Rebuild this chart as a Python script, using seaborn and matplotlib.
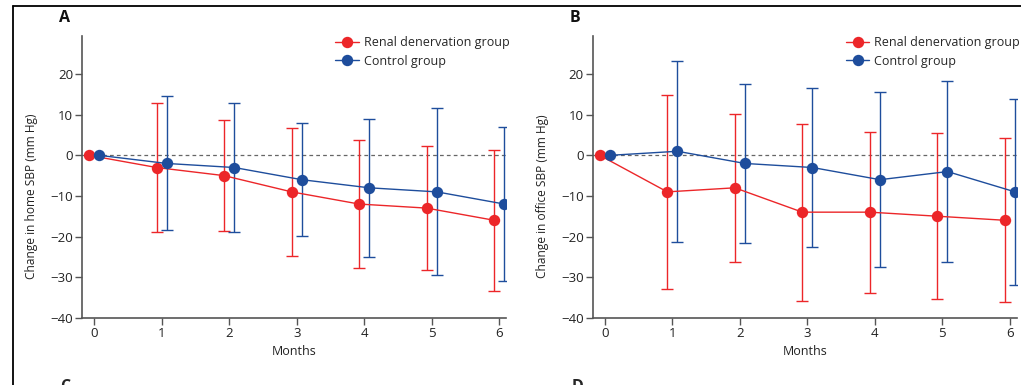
import numpy as np
import pandas as pd
import matplotlib
matplotlib.use("Agg")
import matplotlib.pyplot as plt
import seaborn as sns
from matplotlib.lines import Line2D

# ---------------- data ----------------
months = [0, 1, 2, 3, 4, 5, 6]
groups = ["Renal denervation group", "Control group"]

home_rdn_mean = [0, -3, -5, -9, -12, -13, -16]
home_rdn_sd = [0, 16.0, 13.6, 15.8, 15.8, 15.2, 17.3]
home_ctrl_mean = [0, -2, -3, -6, -8, -9, -12]
home_ctrl_sd = [0, 16.5, 15.8, 13.9, 17.0, 20.6, 18.9]

office_rdn_mean = [0, -9, -8, -14, -14, -15, -16]
office_rdn_sd = [0, 23.9, 18.3, 21.8, 19.8, 20.5, 20.2]
office_ctrl_mean = [0, 1, -2, -3, -6, -4, -9]
office_ctrl_sd = [0, 22.3, 19.5, 19.5, 21.5, 22.4, 23.0]

y_ticks = [-40, -30, -20, -10, 0, 10, 20]
x_ticks = months
panel_letters = ["A", "B"]
y_labels = ["Change in home SBP (mm Hg)", "Change in office SBP (mm Hg)"]
x_label = "Months"

# ---------------- style ----------------
sns.set_style("ticks")
plt.rcParams["font.family"] = ["Open Sans", "DejaVu Sans"]
RED = "#EC2629"
BLUE = "#1E4D9C"
SPINE = "#555555"
colors = [RED, BLUE]
offsets = [-0.075, 0.075]
MS = 8.2

W, H = 1021, 385
fig = plt.figure(figsize=(W / 100, H / 100), dpi=100)

def box(l, r, t, b):
    return [l / W, 1 - b / H, (r - l) / W, (b - t) / H]

axA = fig.add_axes(box(82, 506, 36, 317.7))
axB = fig.add_axes(box(592.7, 1016.7, 36, 317.7))

panels = [
    (axA, [home_rdn_mean, home_ctrl_mean], [home_rdn_sd, home_ctrl_sd]),
    (axB, [office_rdn_mean, office_ctrl_mean], [office_rdn_sd, office_ctrl_sd]),
]

for i, (ax, means, sds) in enumerate(panels):
    ax.axhline(0, color="#666666", lw=0.9, ls=(0, (3, 2.5)), zorder=1)
    for g, (mean, sd) in enumerate(zip(means, sds)):
        x = np.array(months, dtype=float) + offsets[g]
        df = pd.DataFrame({"x": x, "y": mean})
        ax.errorbar(x[1:], np.array(mean[1:]), yerr=np.array(sd[1:]), fmt="none",
                    ecolor=colors[g], elinewidth=1.0, capsize=4, capthick=1.0, zorder=2)
        sns.lineplot(data=df, x="x", y="y", ax=ax, color=colors[g], lw=1.0,
                     marker="o", markersize=MS, markeredgewidth=0, zorder=3)
    ax.set_xlim(-0.18, 6.1)
    ax.set_ylim(-40, 29.4)
    ax.set_xticks(x_ticks)
    ax.set_yticks(y_ticks)
    ax.set_yticklabels([str(v).replace("-", "\u2212") for v in y_ticks])
    for s in ["top", "right"]:
        ax.spines[s].set_visible(False)
    for s in ["left", "bottom"]:
        ax.spines[s].set_color(SPINE)
        ax.spines[s].set_linewidth(1.2)
    ax.tick_params(axis="both", colors="#222222", labelsize=9.5, length=5, width=1.0, pad=1.5)
    ax.tick_params(axis="both", color=SPINE)
    ax.set_xlabel(x_label, fontsize=9, color="#222222", labelpad=4)
    ax.set_ylabel(y_labels[i], fontsize=8.6, color="#222222")
    ax.yaxis.set_label_coords(-0.103, 0.43)
    handles = [Line2D([], [], color=c, lw=1.0, marker="o", markersize=MS, markeredgewidth=0)
               for c in colors]
    ax.legend(handles, groups, loc="upper right", bbox_to_anchor=(1.02, 1.018), frameon=False,
              fontsize=9, handlelength=1.9, handletextpad=0.4, labelspacing=0.45, borderaxespad=0)
    ax.text(-0.054, 1.064, panel_letters[i], transform=ax.transAxes, fontsize=11.5,
            fontweight="bold", ha="left", va="center", color="#111111")

# panel letters of the next row, partly outside the crop
fig.text(60 / W, 1 - 379 / H, "C", fontsize=11.5, fontweight="bold", va="top", ha="left")
fig.text(572 / W, 1 - 379 / H, "D", fontsize=11.5, fontweight="bold", va="top", ha="left")

# outer frame
fig.add_artist(Line2D([13 / W, 1.0], [1 - 6 / H, 1 - 6 / H], color="black", lw=1.3,
                      transform=fig.transFigure))
fig.add_artist(Line2D([13 / W, 13 / W], [1 - 6 / H, 0], color="black", lw=1.3,
                      transform=fig.transFigure))

fig.savefig("out.png", dpi=100)
